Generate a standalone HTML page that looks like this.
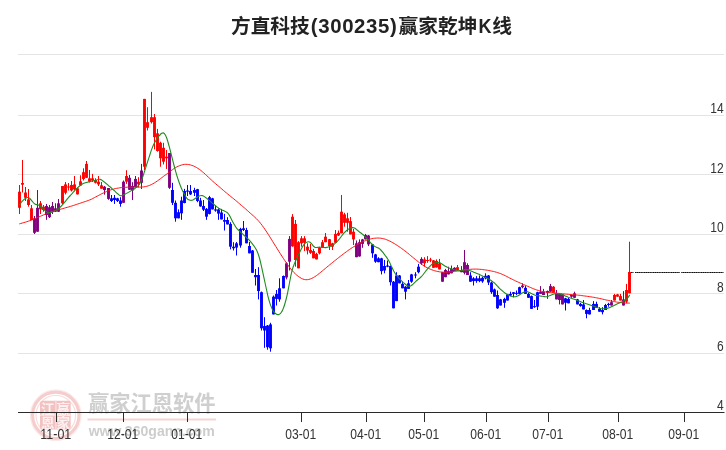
<!DOCTYPE html><html><head><meta charset="utf-8"><title>K</title><style>
html,body{margin:0;padding:0;background:#fff}body{width:726px;height:450px;overflow:hidden;position:relative;font-family:"Liberation Sans","Noto Sans CJK SC",sans-serif}
svg{position:absolute;left:0;top:0}
.t{font-family:"Liberation Sans","Noto Sans CJK SC",sans-serif}
</style></head><body>
<svg width="726" height="450" viewBox="0 0 726 450" style="will-change:transform">
<rect width="726" height="450" fill="#fff"/>
<g class="t">
<circle cx="55.8" cy="415.3" r="25.4" fill="none" stroke="#fbe6e6" stroke-width="1"/>
<circle cx="55.8" cy="415.3" r="23.2" fill="none" stroke="#f5cdcd" stroke-width="3.2"/>
<circle cx="55.8" cy="415.3" r="19.8" fill="none" stroke="#f9dddd" stroke-width="1.2"/>
<rect x="40" y="400.7" width="30.7" height="28.8" rx="2.5" fill="#f2c2c2"/>
<rect x="55.3" y="400.7" width="1.2" height="28.8" fill="#f9e2e2"/>
<rect x="40" y="414.6" width="30.7" height="1.2" fill="#f9e2e2"/>
<g font-size="13.5" font-weight="bold" fill="#fdf0f0" text-anchor="middle">
<text x="47.8" y="413.6">江</text><text x="63.2" y="413.6">赢</text>
<text x="47.8" y="428">恩</text><text x="63.2" y="428">家</text>
</g>
<text x="88" y="410.8" font-size="21.3" font-weight="bold" fill="#cfcfcf" textLength="127.5" lengthAdjust="spacing">赢家江恩软件</text>
<rect x="87.5" y="418.5" width="128.5" height="2" fill="#f3d5d5"/>
<text x="88.7" y="436" font-size="15.2" font-weight="bold" fill="#cdcdcd" textLength="126" lengthAdjust="spacingAndGlyphs">www.360gann.com</text>
</g>

<rect x="18" y="54" width="706" height="1" fill="#e4e4e4"/>
<rect x="18" y="115" width="706" height="1" fill="#e4e4e4"/>
<rect x="18" y="174" width="706" height="1" fill="#e4e4e4"/>
<rect x="18" y="234" width="706" height="1" fill="#e4e4e4"/>
<rect x="18" y="293" width="706" height="1" fill="#e4e4e4"/>
<rect x="18" y="353" width="706" height="1" fill="#e4e4e4"/>
<rect x="18" y="412" width="706.5" height="1" fill="#2a2a2a"/>
<rect x="56" y="412" width="1" height="10" fill="#2a2a2a"/>
<text class="t" x="55.8" y="439" font-size="14" fill="#333" text-anchor="middle" textLength="31" lengthAdjust="spacingAndGlyphs">11-01</text>
<rect x="123" y="412" width="1" height="10" fill="#2a2a2a"/>
<text class="t" x="122.8" y="439" font-size="14" fill="#333" text-anchor="middle" textLength="31" lengthAdjust="spacingAndGlyphs">12-01</text>
<rect x="187" y="412" width="1" height="10" fill="#2a2a2a"/>
<text class="t" x="186.8" y="439" font-size="14" fill="#333" text-anchor="middle" textLength="31" lengthAdjust="spacingAndGlyphs">01-01</text>
<rect x="301" y="412" width="1" height="10" fill="#2a2a2a"/>
<text class="t" x="300.8" y="439" font-size="14" fill="#333" text-anchor="middle" textLength="31" lengthAdjust="spacingAndGlyphs">03-01</text>
<rect x="366" y="412" width="1" height="10" fill="#2a2a2a"/>
<text class="t" x="365.8" y="439" font-size="14" fill="#333" text-anchor="middle" textLength="31" lengthAdjust="spacingAndGlyphs">04-01</text>
<rect x="424" y="412" width="1" height="10" fill="#2a2a2a"/>
<text class="t" x="423.8" y="439" font-size="14" fill="#333" text-anchor="middle" textLength="31" lengthAdjust="spacingAndGlyphs">05-01</text>
<rect x="486" y="412" width="1" height="10" fill="#2a2a2a"/>
<text class="t" x="485.8" y="439" font-size="14" fill="#333" text-anchor="middle" textLength="31" lengthAdjust="spacingAndGlyphs">06-01</text>
<rect x="548" y="412" width="1" height="10" fill="#2a2a2a"/>
<text class="t" x="547.8" y="439" font-size="14" fill="#333" text-anchor="middle" textLength="31" lengthAdjust="spacingAndGlyphs">07-01</text>
<rect x="618" y="412" width="1" height="10" fill="#2a2a2a"/>
<text class="t" x="617.8" y="439" font-size="14" fill="#333" text-anchor="middle" textLength="31" lengthAdjust="spacingAndGlyphs">08-01</text>
<rect x="684" y="412" width="1" height="10" fill="#2a2a2a"/>
<text class="t" x="683.8" y="439" font-size="14" fill="#333" text-anchor="middle" textLength="31" lengthAdjust="spacingAndGlyphs">09-01</text>
<text class="t" x="723.6" y="113" font-size="14" fill="#333" text-anchor="end" textLength="13.4" lengthAdjust="spacingAndGlyphs">14</text>
<text class="t" x="723.6" y="172.5" font-size="14" fill="#333" text-anchor="end" textLength="13.4" lengthAdjust="spacingAndGlyphs">12</text>
<text class="t" x="723.6" y="232" font-size="14" fill="#333" text-anchor="end" textLength="13.4" lengthAdjust="spacingAndGlyphs">10</text>
<text class="t" x="723.6" y="291.5" font-size="14" fill="#333" text-anchor="end" textLength="6.7" lengthAdjust="spacingAndGlyphs">8</text>
<text class="t" x="723.6" y="351" font-size="14" fill="#333" text-anchor="end" textLength="6.7" lengthAdjust="spacingAndGlyphs">6</text>
<text class="t" x="723.6" y="410" font-size="14" fill="#333" text-anchor="end" textLength="6.7" lengthAdjust="spacingAndGlyphs">4</text>
<text class="t" y="33" font-weight="bold" fill="#222" font-size="19.7"><tspan x="231">方直科技</tspan><tspan x="310.8" font-size="20.4" textLength="86" lengthAdjust="spacing">(300235)</tspan><tspan x="398.6">赢家乾坤</tspan><tspan x="478.6" font-size="20.4" textLength="13" lengthAdjust="spacingAndGlyphs">K</tspan><tspan x="492.2">线</tspan></text>
<g fill="#ff0000"><rect x="19.00" y="185.0" width="1.0" height="29.0"/><rect x="18.05" y="191.7" width="2.9" height="16.1"/><rect x="22.00" y="160.0" width="1.0" height="32.5"/><rect x="21.05" y="183.0" width="2.9" height="1.7"/><rect x="25.00" y="187.0" width="1.0" height="14.0"/><rect x="24.05" y="192.5" width="2.9" height="5.3"/><rect x="28.00" y="189.0" width="1.0" height="17.7"/><rect x="27.05" y="199.4" width="2.9" height="5.6"/><rect x="31.00" y="205.0" width="1.0" height="15.0"/><rect x="30.05" y="208.3" width="2.9" height="11.7"/><rect x="40.00" y="201.0" width="1.0" height="13.0"/><rect x="39.05" y="203.3" width="2.9" height="6.1"/><rect x="43.00" y="205.0" width="1.0" height="6.7"/><rect x="42.05" y="206.7" width="2.9" height="3.3"/><rect x="62.00" y="186.0" width="1.0" height="18.5"/><rect x="61.05" y="186.0" width="2.9" height="17.3"/><rect x="65.00" y="182.0" width="1.0" height="12.4"/><rect x="64.05" y="184.4" width="2.9" height="8.4"/><rect x="68.00" y="183.0" width="1.0" height="7.5"/><rect x="67.05" y="186.5" width="2.9" height="1.0"/><rect x="71.00" y="181.0" width="1.0" height="10.5"/><rect x="70.05" y="185.0" width="2.9" height="5.5"/><rect x="74.00" y="176.0" width="1.0" height="14.0"/><rect x="73.05" y="184.4" width="2.9" height="5.0"/><rect x="77.00" y="187.5" width="1.0" height="6.9"/><rect x="76.05" y="188.3" width="2.9" height="6.1"/><rect x="80.00" y="175.3" width="1.0" height="10.7"/><rect x="79.05" y="181.3" width="2.9" height="4.2"/><rect x="83.00" y="168.3" width="1.0" height="12.2"/><rect x="82.05" y="172.2" width="2.9" height="6.8"/><rect x="86.00" y="161.0" width="1.0" height="17.0"/><rect x="85.05" y="163.9" width="2.9" height="13.9"/><rect x="89.00" y="170.0" width="1.0" height="12.5"/><rect x="88.05" y="178.3" width="2.9" height="3.4"/><rect x="92.00" y="173.9" width="1.0" height="8.1"/><rect x="91.05" y="178.3" width="2.9" height="2.2"/><rect x="95.00" y="178.3" width="1.0" height="5.2"/><rect x="94.05" y="180.0" width="2.9" height="2.8"/><rect x="98.00" y="176.0" width="1.0" height="10.0"/><rect x="97.05" y="181.7" width="2.9" height="2.7"/><rect x="101.00" y="182.0" width="1.0" height="6.7"/><rect x="100.05" y="185.3" width="2.9" height="3.4"/><rect x="126.00" y="170.2" width="1.0" height="13.7"/><rect x="125.05" y="176.0" width="2.9" height="5.7"/><rect x="138.00" y="177.2" width="1.0" height="10.0"/><rect x="137.05" y="181.7" width="2.9" height="2.7"/><rect x="144.00" y="98.9" width="1.0" height="71.1"/><rect x="143.05" y="98.9" width="2.9" height="67.8"/><rect x="147.00" y="107.2" width="1.0" height="23.3"/><rect x="146.05" y="122.2" width="2.9" height="5.6"/><rect x="151.00" y="91.9" width="1.0" height="31.6"/><rect x="150.05" y="117.2" width="2.9" height="5.0"/><rect x="154.00" y="114.0" width="1.0" height="35.4"/><rect x="153.05" y="117.2" width="2.9" height="20.0"/><rect x="157.00" y="128.9" width="1.0" height="22.8"/><rect x="156.05" y="133.3" width="2.9" height="17.7"/><rect x="160.00" y="141.7" width="1.0" height="25.0"/><rect x="159.05" y="142.8" width="2.9" height="15.5"/><rect x="163.00" y="142.8" width="1.0" height="21.6"/><rect x="162.05" y="147.8" width="2.9" height="13.9"/><rect x="166.00" y="150.0" width="1.0" height="18.9"/><rect x="165.05" y="156.7" width="2.9" height="1.6"/><rect x="292.00" y="214.1" width="1.0" height="32.6"/><rect x="291.05" y="216.7" width="2.9" height="29.7"/><rect x="295.00" y="220.0" width="1.0" height="46.7"/><rect x="294.05" y="223.9" width="2.9" height="36.1"/><rect x="298.00" y="241.1" width="1.0" height="27.2"/><rect x="297.05" y="242.2" width="2.9" height="26.1"/><rect x="301.00" y="236.1" width="1.0" height="10.6"/><rect x="300.05" y="238.3" width="2.9" height="5.0"/><rect x="304.00" y="236.1" width="1.0" height="15.0"/><rect x="303.05" y="238.3" width="2.9" height="4.5"/><rect x="307.00" y="243.3" width="1.0" height="11.1"/><rect x="306.05" y="246.7" width="2.9" height="3.8"/><rect x="310.00" y="243.9" width="1.0" height="10.0"/><rect x="309.05" y="250.0" width="2.9" height="2.8"/><rect x="313.00" y="248.9" width="1.0" height="9.4"/><rect x="312.05" y="251.0" width="2.9" height="7.3"/><rect x="316.00" y="252.8" width="1.0" height="6.6"/><rect x="315.05" y="253.9" width="2.9" height="5.5"/><rect x="319.00" y="246.7" width="1.0" height="7.7"/><rect x="318.05" y="247.8" width="2.9" height="5.5"/><rect x="322.00" y="240.0" width="1.0" height="7.8"/><rect x="321.05" y="242.2" width="2.9" height="5.6"/><rect x="325.00" y="233.0" width="1.0" height="9.2"/><rect x="324.05" y="236.7" width="2.9" height="5.5"/><rect x="329.00" y="238.9" width="1.0" height="11.1"/><rect x="328.05" y="239.2" width="2.9" height="6.9"/><rect x="332.00" y="242.8" width="1.0" height="7.2"/><rect x="331.05" y="243.3" width="2.9" height="3.4"/><rect x="335.00" y="230.0" width="1.0" height="12.8"/><rect x="334.05" y="233.9" width="2.9" height="8.9"/><rect x="338.00" y="230.5" width="1.0" height="5.5"/><rect x="337.05" y="232.8" width="2.9" height="2.7"/><rect x="341.00" y="195.0" width="1.0" height="38.3"/><rect x="340.05" y="211.7" width="2.9" height="21.6"/><rect x="344.00" y="212.8" width="1.0" height="13.9"/><rect x="343.05" y="214.4" width="2.9" height="8.4"/><rect x="347.00" y="212.8" width="1.0" height="18.9"/><rect x="346.05" y="218.3" width="2.9" height="4.5"/><rect x="350.00" y="217.0" width="1.0" height="17.4"/><rect x="349.05" y="221.1" width="2.9" height="13.3"/><rect x="353.00" y="228.9" width="1.0" height="16.1"/><rect x="352.05" y="231.7" width="2.9" height="7.7"/><rect x="424.00" y="257.2" width="1.0" height="9.5"/><rect x="423.05" y="259.4" width="2.9" height="3.9"/><rect x="427.00" y="256.1" width="1.0" height="6.7"/><rect x="426.05" y="260.0" width="2.9" height="1.0"/><rect x="430.00" y="257.8" width="1.0" height="4.4"/><rect x="429.05" y="259.5" width="2.9" height="1.0"/><rect x="433.00" y="260.0" width="1.0" height="7.8"/><rect x="432.05" y="260.3" width="2.9" height="7.5"/><rect x="436.00" y="259.4" width="1.0" height="8.1"/><rect x="435.05" y="261.0" width="2.9" height="6.5"/><rect x="439.00" y="258.9" width="1.0" height="10.5"/><rect x="438.05" y="263.3" width="2.9" height="6.1"/><rect x="457.00" y="265.0" width="1.0" height="5.0"/><rect x="456.05" y="267.2" width="2.9" height="2.8"/><rect x="553.00" y="286.1" width="1.0" height="6.7"/><rect x="552.05" y="286.7" width="2.9" height="6.1"/><rect x="614.00" y="293.9" width="1.0" height="6.6"/><rect x="613.05" y="295.0" width="2.9" height="5.5"/><rect x="617.00" y="293.9" width="1.0" height="2.8"/><rect x="616.05" y="294.4" width="2.9" height="2.3"/><rect x="620.00" y="293.9" width="1.0" height="6.6"/><rect x="619.05" y="296.1" width="2.9" height="4.4"/><rect x="626.00" y="283.9" width="1.0" height="19.4"/><rect x="625.05" y="290.0" width="2.9" height="11.7"/><rect x="629.00" y="241.7" width="1.0" height="51.6"/><rect x="628.05" y="272.0" width="2.9" height="21.3"/></g>
<g fill="#0000ff"><rect x="111.00" y="195.0" width="1.0" height="7.0"/><rect x="110.05" y="198.3" width="2.9" height="2.7"/><rect x="114.00" y="195.0" width="1.0" height="8.9"/><rect x="113.05" y="197.8" width="2.9" height="2.2"/><rect x="117.00" y="197.8" width="1.0" height="4.2"/><rect x="116.05" y="198.3" width="2.9" height="2.7"/><rect x="120.00" y="197.2" width="1.0" height="9.5"/><rect x="119.05" y="200.5" width="2.9" height="3.4"/><rect x="172.00" y="182.8" width="1.0" height="22.2"/><rect x="171.05" y="190.0" width="2.9" height="12.8"/><rect x="175.00" y="200.5" width="1.0" height="21.2"/><rect x="174.05" y="202.8" width="2.9" height="15.5"/><rect x="178.00" y="209.4" width="1.0" height="8.9"/><rect x="177.05" y="212.2" width="2.9" height="6.1"/><rect x="181.00" y="196.7" width="1.0" height="23.1"/><rect x="180.05" y="200.5" width="2.9" height="12.8"/><rect x="184.00" y="188.9" width="1.0" height="14.4"/><rect x="183.05" y="191.0" width="2.9" height="12.0"/><rect x="187.00" y="185.0" width="1.0" height="11.0"/><rect x="186.05" y="190.5" width="2.9" height="1.2"/><rect x="190.00" y="185.0" width="1.0" height="10.0"/><rect x="189.05" y="191.0" width="2.9" height="3.4"/><rect x="194.00" y="187.8" width="1.0" height="8.2"/><rect x="193.05" y="190.0" width="2.9" height="2.8"/><rect x="197.00" y="188.9" width="1.0" height="13.3"/><rect x="196.05" y="189.2" width="2.9" height="11.8"/><rect x="200.00" y="197.8" width="1.0" height="8.9"/><rect x="199.05" y="200.5" width="2.9" height="5.9"/><rect x="203.00" y="200.0" width="1.0" height="11.0"/><rect x="202.05" y="206.0" width="2.9" height="3.7"/><rect x="206.00" y="208.0" width="1.0" height="11.8"/><rect x="205.05" y="208.9" width="2.9" height="7.8"/><rect x="209.00" y="195.9" width="1.0" height="18.5"/><rect x="208.05" y="197.2" width="2.9" height="16.7"/><rect x="212.00" y="197.8" width="1.0" height="11.6"/><rect x="211.05" y="198.3" width="2.9" height="11.1"/><rect x="215.00" y="205.5" width="1.0" height="6.2"/><rect x="214.05" y="209.4" width="2.9" height="1.2"/><rect x="218.00" y="208.3" width="1.0" height="11.5"/><rect x="217.05" y="209.4" width="2.9" height="4.2"/><rect x="221.00" y="208.9" width="1.0" height="10.5"/><rect x="220.05" y="212.5" width="2.9" height="6.9"/><rect x="224.00" y="213.9" width="1.0" height="16.6"/><rect x="223.05" y="220.0" width="2.9" height="1.7"/><rect x="227.00" y="217.2" width="1.0" height="7.2"/><rect x="226.05" y="220.0" width="2.9" height="4.4"/><rect x="230.00" y="222.2" width="1.0" height="27.2"/><rect x="229.05" y="223.9" width="2.9" height="22.8"/><rect x="233.00" y="242.2" width="1.0" height="8.3"/><rect x="232.05" y="246.7" width="2.9" height="1.6"/><rect x="236.00" y="242.0" width="1.0" height="13.5"/><rect x="235.05" y="243.3" width="2.9" height="4.3"/><rect x="240.00" y="227.8" width="1.0" height="19.9"/><rect x="239.05" y="228.9" width="2.9" height="16.6"/><rect x="243.00" y="221.0" width="1.0" height="10.0"/><rect x="242.05" y="228.3" width="2.9" height="1.7"/><rect x="246.00" y="227.8" width="1.0" height="15.5"/><rect x="245.05" y="230.0" width="2.9" height="13.3"/><rect x="249.00" y="242.0" width="1.0" height="11.3"/><rect x="248.05" y="246.0" width="2.9" height="7.3"/><rect x="252.00" y="250.0" width="1.0" height="22.8"/><rect x="251.05" y="250.5" width="2.9" height="22.3"/><rect x="255.00" y="269.0" width="1.0" height="16.5"/><rect x="254.05" y="275.0" width="2.9" height="2.2"/><rect x="258.00" y="267.2" width="1.0" height="32.2"/><rect x="257.05" y="275.0" width="2.9" height="16.1"/><rect x="261.00" y="291.5" width="1.0" height="39.0"/><rect x="260.05" y="292.2" width="2.9" height="36.1"/><rect x="264.00" y="317.2" width="1.0" height="30.6"/><rect x="263.05" y="326.0" width="2.9" height="4.5"/><rect x="267.00" y="325.0" width="1.0" height="24.7"/><rect x="266.05" y="325.5" width="2.9" height="21.7"/><rect x="270.00" y="322.8" width="1.0" height="28.9"/><rect x="269.05" y="324.4" width="2.9" height="23.9"/><rect x="273.00" y="295.5" width="1.0" height="18.9"/><rect x="272.05" y="296.7" width="2.9" height="17.7"/><rect x="276.00" y="290.0" width="1.0" height="15.5"/><rect x="275.05" y="293.9" width="2.9" height="5.0"/><rect x="279.00" y="278.3" width="1.0" height="23.4"/><rect x="278.05" y="288.3" width="2.9" height="11.1"/><rect x="283.00" y="275.5" width="1.0" height="12.8"/><rect x="282.05" y="276.0" width="2.9" height="12.3"/><rect x="372.00" y="243.9" width="1.0" height="13.9"/><rect x="371.05" y="244.4" width="2.9" height="8.9"/><rect x="375.00" y="253.9" width="1.0" height="8.9"/><rect x="374.05" y="254.4" width="2.9" height="7.3"/><rect x="378.00" y="257.2" width="1.0" height="5.0"/><rect x="377.05" y="258.3" width="2.9" height="3.9"/><rect x="381.00" y="257.8" width="1.0" height="16.6"/><rect x="380.05" y="258.3" width="2.9" height="12.8"/><rect x="384.00" y="260.0" width="1.0" height="13.3"/><rect x="383.05" y="266.0" width="2.9" height="4.5"/><rect x="387.00" y="260.5" width="1.0" height="6.7"/><rect x="386.05" y="265.5" width="2.9" height="1.2"/><rect x="390.00" y="265.5" width="1.0" height="20.0"/><rect x="389.05" y="266.0" width="2.9" height="16.2"/><rect x="393.00" y="281.0" width="1.0" height="27.3"/><rect x="392.05" y="281.7" width="2.9" height="26.6"/><rect x="396.00" y="272.2" width="1.0" height="28.9"/><rect x="395.05" y="275.5" width="2.9" height="25.6"/><rect x="399.00" y="275.0" width="1.0" height="8.3"/><rect x="398.05" y="275.5" width="2.9" height="7.8"/><rect x="402.00" y="281.7" width="1.0" height="6.6"/><rect x="401.05" y="283.9" width="2.9" height="4.4"/><rect x="405.00" y="286.1" width="1.0" height="13.3"/><rect x="404.05" y="286.7" width="2.9" height="5.0"/><rect x="408.00" y="280.0" width="1.0" height="8.9"/><rect x="407.05" y="283.3" width="2.9" height="5.6"/><rect x="411.00" y="273.9" width="1.0" height="8.9"/><rect x="410.05" y="274.4" width="2.9" height="7.3"/><rect x="415.00" y="272.2" width="1.0" height="6.1"/><rect x="414.05" y="274.5" width="2.9" height="1.0"/><rect x="418.00" y="263.9" width="1.0" height="9.4"/><rect x="417.05" y="266.7" width="2.9" height="5.5"/><rect x="470.00" y="272.2" width="1.0" height="9.5"/><rect x="469.05" y="275.5" width="2.9" height="6.2"/><rect x="473.00" y="277.2" width="1.0" height="8.3"/><rect x="472.05" y="278.3" width="2.9" height="2.8"/><rect x="476.00" y="276.1" width="1.0" height="6.7"/><rect x="475.05" y="278.3" width="2.9" height="2.8"/><rect x="479.00" y="275.5" width="1.0" height="6.7"/><rect x="478.05" y="278.3" width="2.9" height="2.8"/><rect x="482.00" y="276.7" width="1.0" height="6.1"/><rect x="481.05" y="277.8" width="2.9" height="3.6"/><rect x="485.00" y="273.3" width="1.0" height="6.1"/><rect x="484.05" y="275.8" width="2.9" height="2.5"/><rect x="488.00" y="275.0" width="1.0" height="10.0"/><rect x="487.05" y="275.5" width="2.9" height="7.0"/><rect x="491.00" y="281.7" width="1.0" height="12.2"/><rect x="490.05" y="282.5" width="2.9" height="9.7"/><rect x="494.00" y="288.5" width="1.0" height="8.2"/><rect x="493.05" y="289.4" width="2.9" height="7.3"/><rect x="497.00" y="290.5" width="1.0" height="18.4"/><rect x="496.05" y="295.0" width="2.9" height="13.3"/><rect x="500.00" y="298.9" width="1.0" height="6.6"/><rect x="499.05" y="299.4" width="2.9" height="6.1"/><rect x="504.00" y="297.8" width="1.0" height="10.0"/><rect x="503.05" y="298.9" width="2.9" height="3.9"/><rect x="507.00" y="293.9" width="1.0" height="6.6"/><rect x="506.05" y="294.4" width="2.9" height="6.1"/><rect x="510.00" y="291.7" width="1.0" height="4.4"/><rect x="509.05" y="293.9" width="2.9" height="1.6"/><rect x="513.00" y="292.2" width="1.0" height="5.0"/><rect x="512.05" y="292.2" width="2.9" height="1.7"/><rect x="516.00" y="290.5" width="1.0" height="4.5"/><rect x="515.05" y="292.8" width="2.9" height="1.1"/><rect x="519.00" y="286.7" width="1.0" height="7.2"/><rect x="518.05" y="287.2" width="2.9" height="6.7"/><rect x="525.00" y="286.1" width="1.0" height="7.8"/><rect x="524.05" y="287.8" width="2.9" height="6.1"/><rect x="528.00" y="292.8" width="1.0" height="5.0"/><rect x="527.05" y="293.9" width="2.9" height="3.9"/><rect x="531.00" y="295.5" width="1.0" height="13.4"/><rect x="530.05" y="296.1" width="2.9" height="12.8"/><rect x="534.00" y="300.0" width="1.0" height="7.8"/><rect x="533.05" y="306.1" width="2.9" height="1.1"/><rect x="537.00" y="291.7" width="1.0" height="18.3"/><rect x="536.05" y="292.2" width="2.9" height="14.5"/><rect x="565.00" y="297.8" width="1.0" height="12.7"/><rect x="564.05" y="298.3" width="2.9" height="4.5"/><rect x="568.00" y="297.8" width="1.0" height="5.5"/><rect x="567.05" y="298.9" width="2.9" height="4.4"/><rect x="577.00" y="298.9" width="1.0" height="5.5"/><rect x="576.05" y="299.4" width="2.9" height="5.0"/><rect x="580.00" y="302.8" width="1.0" height="3.9"/><rect x="579.05" y="303.9" width="2.9" height="2.2"/><rect x="583.00" y="300.0" width="1.0" height="9.4"/><rect x="582.05" y="304.4" width="2.9" height="5.0"/><rect x="586.00" y="309.4" width="1.0" height="8.9"/><rect x="585.05" y="310.0" width="2.9" height="3.9"/><rect x="589.00" y="307.8" width="1.0" height="6.6"/><rect x="588.05" y="310.0" width="2.9" height="4.4"/><rect x="593.00" y="301.1" width="1.0" height="8.9"/><rect x="592.05" y="303.9" width="2.9" height="6.1"/><rect x="596.00" y="301.7" width="1.0" height="6.1"/><rect x="595.05" y="303.9" width="2.9" height="3.9"/><rect x="599.00" y="307.2" width="1.0" height="4.5"/><rect x="598.05" y="308.9" width="2.9" height="2.8"/><rect x="602.00" y="307.2" width="1.0" height="7.2"/><rect x="601.05" y="310.0" width="2.9" height="2.2"/><rect x="605.00" y="303.9" width="1.0" height="6.1"/><rect x="604.05" y="305.0" width="2.9" height="5.0"/><rect x="608.00" y="302.8" width="1.0" height="3.9"/><rect x="607.05" y="303.9" width="2.9" height="1.1"/></g>
<g fill="#800080"><rect x="34.00" y="216.0" width="1.0" height="18.0"/><rect x="33.05" y="218.3" width="2.9" height="14.5"/><rect x="37.00" y="190.0" width="1.0" height="41.7"/><rect x="36.05" y="207.8" width="2.9" height="23.9"/><rect x="46.00" y="204.0" width="1.0" height="15.8"/><rect x="45.05" y="206.0" width="2.9" height="9.0"/><rect x="49.00" y="205.0" width="1.0" height="13.0"/><rect x="48.05" y="207.2" width="2.9" height="10.0"/><rect x="52.00" y="202.0" width="1.0" height="12.0"/><rect x="51.05" y="206.0" width="2.9" height="5.7"/><rect x="55.00" y="203.3" width="1.0" height="8.7"/><rect x="54.05" y="208.3" width="2.9" height="3.4"/><rect x="58.00" y="199.0" width="1.0" height="13.0"/><rect x="57.05" y="203.3" width="2.9" height="8.4"/><rect x="104.00" y="186.0" width="1.0" height="8.7"/><rect x="103.05" y="186.7" width="2.9" height="3.3"/><rect x="108.00" y="188.0" width="1.0" height="11.8"/><rect x="107.05" y="188.0" width="2.9" height="10.9"/><rect x="123.00" y="180.5" width="1.0" height="22.3"/><rect x="122.05" y="181.7" width="2.9" height="21.1"/><rect x="129.00" y="175.0" width="1.0" height="14.8"/><rect x="128.05" y="177.8" width="2.9" height="12.0"/><rect x="132.00" y="182.2" width="1.0" height="17.8"/><rect x="131.05" y="186.0" width="2.9" height="4.5"/><rect x="135.00" y="176.0" width="1.0" height="11.2"/><rect x="134.05" y="178.9" width="2.9" height="8.3"/><rect x="141.00" y="163.9" width="1.0" height="25.1"/><rect x="140.05" y="170.5" width="2.9" height="12.3"/><rect x="169.00" y="153.0" width="1.0" height="35.9"/><rect x="168.05" y="153.0" width="2.9" height="34.8"/><rect x="286.00" y="262.2" width="1.0" height="17.2"/><rect x="285.05" y="263.3" width="2.9" height="14.2"/><rect x="289.00" y="236.1" width="1.0" height="34.4"/><rect x="288.05" y="238.9" width="2.9" height="22.8"/><rect x="356.00" y="240.5" width="1.0" height="16.7"/><rect x="355.05" y="243.3" width="2.9" height="13.9"/><rect x="359.00" y="239.4" width="1.0" height="17.3"/><rect x="358.05" y="242.2" width="2.9" height="14.2"/><rect x="362.00" y="238.9" width="1.0" height="8.9"/><rect x="361.05" y="239.4" width="2.9" height="4.5"/><rect x="365.00" y="233.9" width="1.0" height="5.5"/><rect x="364.05" y="235.0" width="2.9" height="4.4"/><rect x="368.00" y="235.0" width="1.0" height="11.1"/><rect x="367.05" y="235.5" width="2.9" height="8.9"/><rect x="421.00" y="257.2" width="1.0" height="7.8"/><rect x="420.05" y="258.9" width="2.9" height="4.4"/><rect x="442.00" y="272.0" width="1.0" height="9.7"/><rect x="441.05" y="272.2" width="2.9" height="9.5"/><rect x="445.00" y="268.9" width="1.0" height="8.3"/><rect x="444.05" y="270.0" width="2.9" height="7.2"/><rect x="448.00" y="266.7" width="1.0" height="7.7"/><rect x="447.05" y="271.1" width="2.9" height="3.3"/><rect x="451.00" y="265.5" width="1.0" height="7.8"/><rect x="450.05" y="268.9" width="2.9" height="4.4"/><rect x="454.00" y="267.2" width="1.0" height="3.9"/><rect x="453.05" y="267.8" width="2.9" height="3.3"/><rect x="461.00" y="266.1" width="1.0" height="6.1"/><rect x="460.05" y="270.0" width="2.9" height="2.2"/><rect x="464.00" y="250.0" width="1.0" height="24.4"/><rect x="463.05" y="262.2" width="2.9" height="10.6"/><rect x="467.00" y="263.3" width="1.0" height="11.7"/><rect x="466.05" y="265.0" width="2.9" height="10.0"/><rect x="522.00" y="283.3" width="1.0" height="5.0"/><rect x="521.05" y="285.5" width="2.9" height="1.7"/><rect x="540.00" y="286.1" width="1.0" height="7.8"/><rect x="539.05" y="291.7" width="2.9" height="2.2"/><rect x="543.00" y="288.9" width="1.0" height="6.1"/><rect x="542.05" y="291.7" width="2.9" height="3.3"/><rect x="547.00" y="290.5" width="1.0" height="8.4"/><rect x="546.05" y="291.0" width="2.9" height="1.8"/><rect x="550.00" y="283.9" width="1.0" height="7.8"/><rect x="549.05" y="286.1" width="2.9" height="5.6"/><rect x="556.00" y="290.0" width="1.0" height="9.4"/><rect x="555.05" y="293.0" width="2.9" height="6.4"/><rect x="559.00" y="293.5" width="1.0" height="10.9"/><rect x="558.05" y="293.9" width="2.9" height="6.1"/><rect x="562.00" y="294.0" width="1.0" height="10.4"/><rect x="561.05" y="294.4" width="2.9" height="10.0"/><rect x="571.00" y="294.4" width="1.0" height="3.4"/><rect x="570.05" y="295.0" width="2.9" height="1.7"/><rect x="574.00" y="291.7" width="1.0" height="6.1"/><rect x="573.05" y="293.3" width="2.9" height="4.5"/><rect x="611.00" y="300.0" width="1.0" height="5.5"/><rect x="610.05" y="302.2" width="2.9" height="3.3"/><rect x="623.00" y="291.1" width="1.0" height="14.4"/><rect x="622.05" y="299.4" width="2.9" height="6.1"/></g>
<path d="M19.3,223.9 C19.6,223.8 20.3,223.6 20.8,223.5 C21.3,223.3 21.8,223.2 22.3,223.0 C22.8,222.9 23.3,222.7 23.8,222.6 C24.3,222.4 24.8,222.3 25.3,222.2 C25.8,222.0 26.3,221.9 26.8,221.7 C27.3,221.6 27.8,221.4 28.3,221.2 C28.8,221.1 29.3,220.9 29.8,220.7 C30.3,220.6 30.8,220.4 31.3,220.2 C31.8,220.0 32.3,219.8 32.8,219.6 C33.3,219.4 33.8,219.2 34.3,219.0 C34.8,218.7 35.3,218.5 35.8,218.3 C36.3,218.1 36.8,217.9 37.3,217.6 C37.8,217.4 38.3,217.2 38.8,217.0 C39.3,216.7 39.8,216.5 40.3,216.3 C40.8,216.1 41.3,215.9 41.8,215.7 C42.3,215.4 42.8,215.2 43.3,215.0 C43.8,214.8 44.3,214.6 44.8,214.4 C45.3,214.2 45.8,214.0 46.3,213.8 C46.8,213.6 47.3,213.4 47.8,213.2 C48.3,213.0 48.8,212.8 49.3,212.6 C49.8,212.4 50.3,212.2 50.8,212.0 C51.3,211.8 51.8,211.7 52.3,211.5 C52.8,211.3 53.3,211.2 53.8,211.0 C54.3,210.8 54.8,210.7 55.3,210.6 C55.8,210.4 56.3,210.3 56.8,210.1 C57.3,210.0 57.8,209.9 58.3,209.7 C58.8,209.6 59.3,209.5 59.8,209.4 C60.3,209.2 60.8,209.1 61.3,209.0 C61.8,208.8 62.3,208.7 62.8,208.6 C63.3,208.4 63.8,208.3 64.3,208.2 C64.8,208.0 65.3,207.9 65.8,207.7 C66.3,207.6 66.8,207.5 67.3,207.3 C67.8,207.2 68.3,207.0 68.8,206.9 C69.3,206.7 69.8,206.6 70.3,206.4 C70.8,206.3 71.3,206.1 71.8,206.0 C72.3,205.8 72.8,205.7 73.3,205.5 C73.8,205.4 74.3,205.2 74.8,205.0 C75.3,204.9 75.8,204.7 76.3,204.5 C76.8,204.4 77.3,204.2 77.8,204.0 C78.3,203.9 78.8,203.7 79.3,203.5 C79.8,203.3 80.3,203.2 80.8,203.0 C81.3,202.8 81.8,202.7 82.3,202.5 C82.8,202.3 83.3,202.1 83.8,202.0 C84.3,201.8 84.8,201.6 85.3,201.5 C85.8,201.3 86.3,201.2 86.8,201.0 C87.3,200.8 87.8,200.7 88.3,200.5 C88.8,200.3 89.3,200.1 89.8,199.9 C90.3,199.7 90.8,199.5 91.3,199.3 C91.8,199.0 92.3,198.8 92.8,198.5 C93.3,198.3 93.8,198.0 94.3,197.7 C94.8,197.5 95.3,197.2 95.8,196.9 C96.3,196.6 96.8,196.3 97.3,196.1 C97.8,195.8 98.3,195.5 98.8,195.3 C99.3,195.0 99.8,194.7 100.3,194.5 C100.8,194.2 101.3,194.0 101.8,193.7 C102.3,193.5 102.8,193.2 103.3,193.0 C103.8,192.8 104.3,192.5 104.8,192.3 C105.3,192.1 105.8,191.9 106.3,191.7 C106.8,191.4 107.3,191.2 107.8,191.0 C108.3,190.8 108.8,190.6 109.3,190.4 C109.8,190.2 110.3,190.0 110.8,189.9 C111.3,189.7 111.8,189.5 112.3,189.4 C112.8,189.2 113.3,189.1 113.8,189.0 C114.3,188.8 114.8,188.7 115.3,188.6 C115.8,188.5 116.3,188.4 116.8,188.3 C117.3,188.2 117.8,188.2 118.3,188.1 C118.8,188.0 119.3,187.9 119.8,187.8 C120.3,187.8 120.8,187.7 121.3,187.6 C121.8,187.6 122.3,187.5 122.8,187.5 C123.3,187.4 123.8,187.4 124.3,187.3 C124.8,187.3 125.3,187.3 125.8,187.3 C126.3,187.2 126.8,187.2 127.3,187.2 C127.8,187.2 128.3,187.2 128.8,187.2 C129.3,187.2 129.8,187.2 130.3,187.2 C130.8,187.2 131.3,187.2 131.8,187.2 C132.3,187.2 132.8,187.2 133.3,187.2 C133.8,187.2 134.3,187.2 134.8,187.2 C135.3,187.2 135.8,187.2 136.3,187.2 C136.8,187.2 137.3,187.1 137.8,187.1 C138.3,187.1 138.8,187.1 139.3,187.1 C139.8,187.1 140.3,187.1 140.8,187.1 C141.3,187.0 141.8,187.0 142.3,187.0 C142.8,187.0 143.3,186.9 143.8,186.9 C144.3,186.8 144.8,186.7 145.3,186.6 C145.8,186.5 146.3,186.4 146.8,186.3 C147.3,186.2 147.8,186.0 148.3,185.8 C148.8,185.7 149.3,185.5 149.8,185.3 C150.3,185.1 150.8,184.8 151.3,184.6 C151.8,184.4 152.3,184.1 152.8,183.8 C153.3,183.6 153.8,183.3 154.3,183.0 C154.8,182.7 155.3,182.4 155.8,182.0 C156.3,181.7 156.8,181.4 157.3,181.0 C157.8,180.6 158.3,180.3 158.8,179.9 C159.3,179.5 159.8,179.2 160.3,178.8 C160.8,178.4 161.3,178.0 161.8,177.7 C162.3,177.3 162.8,176.9 163.3,176.5 C163.8,176.2 164.3,175.8 164.8,175.4 C165.3,175.1 165.8,174.7 166.3,174.4 C166.8,174.0 167.3,173.6 167.8,173.2 C168.3,172.9 168.8,172.5 169.3,172.1 C169.8,171.7 170.3,171.3 170.8,170.9 C171.3,170.6 171.8,170.2 172.3,169.8 C172.8,169.4 173.3,169.1 173.8,168.7 C174.3,168.4 174.8,168.1 175.3,167.8 C175.8,167.5 176.3,167.2 176.8,166.9 C177.3,166.7 177.8,166.4 178.3,166.2 C178.8,166.0 179.3,165.8 179.8,165.6 C180.3,165.4 180.8,165.2 181.3,165.1 C181.8,164.9 182.3,164.8 182.8,164.7 C183.3,164.6 183.8,164.5 184.3,164.4 C184.8,164.4 185.3,164.3 185.8,164.3 C186.3,164.3 186.8,164.3 187.3,164.4 C187.8,164.4 188.3,164.5 188.8,164.6 C189.3,164.7 189.8,164.8 190.3,164.9 C190.8,165.0 191.3,165.2 191.8,165.4 C192.3,165.5 192.8,165.7 193.3,165.9 C193.8,166.1 194.3,166.4 194.8,166.6 C195.3,166.9 195.8,167.1 196.3,167.4 C196.8,167.7 197.3,168.0 197.8,168.3 C198.3,168.6 198.8,169.0 199.3,169.3 C199.8,169.7 200.3,170.1 200.8,170.4 C201.3,170.8 201.8,171.2 202.3,171.7 C202.8,172.1 203.3,172.5 203.8,172.9 C204.3,173.4 204.8,173.8 205.3,174.3 C205.8,174.8 206.3,175.2 206.8,175.7 C207.3,176.2 207.8,176.7 208.3,177.1 C208.8,177.6 209.3,178.1 209.8,178.5 C210.3,179.0 210.8,179.5 211.3,179.9 C211.8,180.4 212.3,180.8 212.8,181.3 C213.3,181.7 213.8,182.2 214.3,182.6 C214.8,183.0 215.3,183.5 215.8,183.9 C216.3,184.3 216.8,184.7 217.3,185.2 C217.8,185.6 218.3,186.0 218.8,186.4 C219.3,186.9 219.8,187.3 220.3,187.7 C220.8,188.1 221.3,188.6 221.8,189.0 C222.3,189.4 222.8,189.9 223.3,190.3 C223.8,190.7 224.3,191.2 224.8,191.6 C225.3,192.0 225.8,192.4 226.3,192.8 C226.8,193.3 227.3,193.7 227.8,194.1 C228.3,194.5 228.8,194.9 229.3,195.3 C229.8,195.7 230.3,196.1 230.8,196.5 C231.3,196.9 231.8,197.3 232.3,197.7 C232.8,198.1 233.3,198.5 233.8,198.9 C234.3,199.4 234.8,199.8 235.3,200.2 C235.8,200.6 236.3,201.0 236.8,201.4 C237.3,201.9 237.8,202.3 238.3,202.7 C238.8,203.1 239.3,203.6 239.8,204.0 C240.3,204.4 240.8,204.8 241.3,205.3 C241.8,205.7 242.3,206.1 242.8,206.5 C243.3,207.0 243.8,207.4 244.3,207.8 C244.8,208.3 245.3,208.7 245.8,209.1 C246.3,209.6 246.8,210.0 247.3,210.5 C247.8,210.9 248.3,211.4 248.8,211.8 C249.3,212.3 249.8,212.7 250.3,213.2 C250.8,213.6 251.3,214.1 251.8,214.5 C252.3,214.9 252.8,215.4 253.3,215.8 C253.8,216.3 254.3,216.7 254.8,217.2 C255.3,217.7 255.8,218.1 256.3,218.6 C256.8,219.1 257.3,219.6 257.8,220.2 C258.3,220.7 258.8,221.2 259.3,221.8 C259.8,222.4 260.3,223.0 260.8,223.7 C261.3,224.3 261.8,225.0 262.3,225.6 C262.8,226.3 263.3,227.0 263.8,227.7 C264.3,228.4 264.8,229.1 265.3,229.9 C265.8,230.6 266.3,231.3 266.8,232.1 C267.3,232.9 267.8,233.6 268.3,234.4 C268.8,235.2 269.3,236.0 269.8,236.8 C270.3,237.6 270.8,238.4 271.3,239.2 C271.8,240.0 272.3,240.9 272.8,241.7 C273.3,242.5 273.8,243.3 274.3,244.1 C274.8,244.9 275.3,245.7 275.8,246.5 C276.3,247.3 276.8,248.1 277.3,248.9 C277.8,249.7 278.3,250.5 278.8,251.3 C279.3,252.1 279.8,252.9 280.3,253.6 C280.8,254.4 281.3,255.2 281.8,256.0 C282.3,256.8 282.8,257.6 283.3,258.3 C283.8,259.1 284.3,259.8 284.8,260.6 C285.3,261.3 285.8,262.1 286.3,262.8 C286.8,263.5 287.3,264.2 287.8,264.9 C288.3,265.6 288.8,266.3 289.3,267.0 C289.8,267.6 290.3,268.3 290.8,268.9 C291.3,269.5 291.8,270.1 292.3,270.7 C292.8,271.3 293.3,271.8 293.8,272.4 C294.3,272.9 294.8,273.4 295.3,273.8 C295.8,274.3 296.3,274.8 296.8,275.2 C297.3,275.6 297.8,276.0 298.3,276.4 C298.8,276.8 299.3,277.1 299.8,277.4 C300.3,277.7 300.8,278.0 301.3,278.3 C301.8,278.6 302.3,278.8 302.8,279.0 C303.3,279.2 303.8,279.4 304.3,279.5 C304.8,279.6 305.3,279.7 305.8,279.7 C306.3,279.7 306.8,279.7 307.3,279.7 C307.8,279.6 308.3,279.6 308.8,279.4 C309.3,279.3 309.8,279.2 310.3,279.0 C310.8,278.8 311.3,278.6 311.8,278.4 C312.3,278.1 312.8,277.9 313.3,277.6 C313.8,277.3 314.3,277.0 314.8,276.7 C315.3,276.3 315.8,276.0 316.3,275.7 C316.8,275.3 317.3,274.9 317.8,274.6 C318.3,274.2 318.8,273.8 319.3,273.4 C319.8,273.0 320.3,272.6 320.8,272.2 C321.3,271.8 321.8,271.4 322.3,271.0 C322.8,270.6 323.3,270.2 323.8,269.7 C324.3,269.3 324.8,268.9 325.3,268.5 C325.8,268.1 326.3,267.6 326.8,267.2 C327.3,266.8 327.8,266.4 328.3,266.0 C328.8,265.5 329.3,265.1 329.8,264.7 C330.3,264.3 330.8,263.9 331.3,263.5 C331.8,263.1 332.3,262.7 332.8,262.3 C333.3,261.9 333.8,261.5 334.3,261.1 C334.8,260.7 335.3,260.3 335.8,259.9 C336.3,259.5 336.8,259.1 337.3,258.7 C337.8,258.3 338.3,257.9 338.8,257.5 C339.3,257.1 339.8,256.7 340.3,256.3 C340.8,255.9 341.3,255.5 341.8,255.2 C342.3,254.8 342.8,254.4 343.3,254.0 C343.8,253.6 344.3,253.3 344.8,252.9 C345.3,252.5 345.8,252.1 346.3,251.8 C346.8,251.4 347.3,251.0 347.8,250.7 C348.3,250.3 348.8,250.0 349.3,249.6 C349.8,249.3 350.3,249.0 350.8,248.6 C351.3,248.3 351.8,248.0 352.3,247.6 C352.8,247.3 353.3,247.0 353.8,246.7 C354.3,246.4 354.8,246.1 355.3,245.8 C355.8,245.5 356.3,245.2 356.8,244.9 C357.3,244.6 357.8,244.3 358.3,244.0 C358.8,243.7 359.3,243.4 359.8,243.2 C360.3,242.9 360.8,242.6 361.3,242.4 C361.8,242.2 362.3,241.9 362.8,241.7 C363.3,241.5 363.8,241.3 364.3,241.1 C364.8,240.9 365.3,240.7 365.8,240.5 C366.3,240.3 366.8,240.1 367.3,240.0 C367.8,239.8 368.3,239.6 368.8,239.5 C369.3,239.3 369.8,239.2 370.3,239.0 C370.8,238.9 371.3,238.8 371.8,238.7 C372.3,238.6 372.8,238.5 373.3,238.4 C373.8,238.3 374.3,238.2 374.8,238.2 C375.3,238.1 375.8,238.1 376.3,238.1 C376.8,238.0 377.3,238.0 377.8,238.0 C378.3,238.0 378.8,238.1 379.3,238.1 C379.8,238.1 380.3,238.2 380.8,238.2 C381.3,238.3 381.8,238.4 382.3,238.5 C382.8,238.6 383.3,238.7 383.8,238.8 C384.3,238.9 384.8,239.1 385.3,239.2 C385.8,239.4 386.3,239.6 386.8,239.8 C387.3,240.0 387.8,240.2 388.3,240.4 C388.8,240.6 389.3,240.8 389.8,241.1 C390.3,241.3 390.8,241.6 391.3,241.9 C391.8,242.1 392.3,242.4 392.8,242.7 C393.3,243.0 393.8,243.3 394.3,243.6 C394.8,243.9 395.3,244.2 395.8,244.5 C396.3,244.8 396.8,245.1 397.3,245.5 C397.8,245.8 398.3,246.1 398.8,246.5 C399.3,246.8 399.8,247.2 400.3,247.5 C400.8,247.9 401.3,248.2 401.8,248.6 C402.3,249.0 402.8,249.3 403.3,249.7 C403.8,250.1 404.3,250.5 404.8,250.8 C405.3,251.2 405.8,251.6 406.3,252.0 C406.8,252.4 407.3,252.8 407.8,253.2 C408.3,253.6 408.8,254.0 409.3,254.4 C409.8,254.8 410.3,255.3 410.8,255.7 C411.3,256.1 411.8,256.5 412.3,256.9 C412.8,257.4 413.3,257.8 413.8,258.2 C414.3,258.6 414.8,259.0 415.3,259.4 C415.8,259.8 416.3,260.2 416.8,260.6 C417.3,261.0 417.8,261.4 418.3,261.8 C418.8,262.2 419.3,262.6 419.8,263.0 C420.3,263.3 420.8,263.7 421.3,264.1 C421.8,264.4 422.3,264.8 422.8,265.1 C423.3,265.4 423.8,265.8 424.3,266.1 C424.8,266.4 425.3,266.7 425.8,267.0 C426.3,267.3 426.8,267.5 427.3,267.8 C427.8,268.1 428.3,268.3 428.8,268.5 C429.3,268.8 429.8,269.0 430.3,269.2 C430.8,269.4 431.3,269.6 431.8,269.8 C432.3,270.0 432.8,270.1 433.3,270.3 C433.8,270.5 434.3,270.6 434.8,270.8 C435.3,270.9 435.8,271.1 436.3,271.2 C436.8,271.3 437.3,271.4 437.8,271.5 C438.3,271.6 438.8,271.7 439.3,271.8 C439.8,271.9 440.3,271.9 440.8,272.0 C441.3,272.0 441.8,272.1 442.3,272.1 C442.8,272.1 443.3,272.1 443.8,272.2 C444.3,272.2 444.8,272.2 445.3,272.2 C445.8,272.2 446.3,272.1 446.8,272.1 C447.3,272.1 447.8,272.1 448.3,272.1 C448.8,272.0 449.3,272.0 449.8,272.0 C450.3,271.9 450.8,271.9 451.3,271.8 C451.8,271.8 452.3,271.7 452.8,271.6 C453.3,271.6 453.8,271.5 454.3,271.4 C454.8,271.4 455.3,271.3 455.8,271.2 C456.3,271.2 456.8,271.1 457.3,271.0 C457.8,270.9 458.3,270.9 458.8,270.8 C459.3,270.7 459.8,270.6 460.3,270.5 C460.8,270.5 461.3,270.4 461.8,270.3 C462.3,270.2 462.8,270.2 463.3,270.1 C463.8,270.0 464.3,270.0 464.8,269.9 C465.3,269.8 465.8,269.8 466.3,269.7 C466.8,269.6 467.3,269.6 467.8,269.5 C468.3,269.5 468.8,269.4 469.3,269.4 C469.8,269.3 470.3,269.3 470.8,269.3 C471.3,269.2 471.8,269.2 472.3,269.2 C472.8,269.1 473.3,269.1 473.8,269.1 C474.3,269.1 474.8,269.1 475.3,269.1 C475.8,269.1 476.3,269.1 476.8,269.1 C477.3,269.1 477.8,269.2 478.3,269.2 C478.8,269.2 479.3,269.3 479.8,269.3 C480.3,269.3 480.8,269.4 481.3,269.4 C481.8,269.5 482.3,269.5 482.8,269.6 C483.3,269.7 483.8,269.7 484.3,269.8 C484.8,269.8 485.3,269.9 485.8,270.0 C486.3,270.1 486.8,270.1 487.3,270.2 C487.8,270.3 488.3,270.4 488.8,270.5 C489.3,270.6 489.8,270.7 490.3,270.8 C490.8,270.9 491.3,271.0 491.8,271.1 C492.3,271.2 492.8,271.3 493.3,271.4 C493.8,271.5 494.3,271.7 494.8,271.8 C495.3,271.9 495.8,272.1 496.3,272.2 C496.8,272.4 497.3,272.5 497.8,272.7 C498.3,272.8 498.8,273.0 499.3,273.2 C499.8,273.4 500.3,273.6 500.8,273.7 C501.3,273.9 501.8,274.1 502.3,274.4 C502.8,274.6 503.3,274.8 503.8,275.0 C504.3,275.3 504.8,275.5 505.3,275.7 C505.8,276.0 506.3,276.2 506.8,276.5 C507.3,276.7 507.8,277.0 508.3,277.3 C508.8,277.5 509.3,277.8 509.8,278.1 C510.3,278.3 510.8,278.6 511.3,278.8 C511.8,279.1 512.3,279.4 512.8,279.6 C513.3,279.9 513.8,280.1 514.3,280.3 C514.8,280.6 515.3,280.8 515.8,281.1 C516.3,281.3 516.8,281.5 517.3,281.7 C517.8,282.0 518.3,282.2 518.8,282.4 C519.3,282.6 519.8,282.8 520.3,283.1 C520.8,283.3 521.3,283.5 521.8,283.7 C522.3,283.9 522.8,284.2 523.3,284.4 C523.8,284.6 524.3,284.8 524.8,285.0 C525.3,285.3 525.8,285.5 526.3,285.7 C526.8,285.9 527.3,286.1 527.8,286.3 C528.3,286.6 528.8,286.8 529.3,287.0 C529.8,287.2 530.3,287.4 530.8,287.6 C531.3,287.8 531.8,288.0 532.3,288.3 C532.8,288.5 533.3,288.7 533.8,288.9 C534.3,289.1 534.8,289.2 535.3,289.4 C535.8,289.6 536.3,289.8 536.8,290.0 C537.3,290.1 537.8,290.3 538.3,290.4 C538.8,290.6 539.3,290.7 539.8,290.9 C540.3,291.0 540.8,291.1 541.3,291.2 C541.8,291.3 542.3,291.5 542.8,291.6 C543.3,291.6 543.8,291.7 544.3,291.8 C544.8,291.9 545.3,292.0 545.8,292.0 C546.3,292.1 546.8,292.2 547.3,292.2 C547.8,292.3 548.3,292.3 548.8,292.4 C549.3,292.4 549.8,292.5 550.3,292.5 C550.8,292.6 551.3,292.6 551.8,292.7 C552.3,292.7 552.8,292.8 553.3,292.8 C553.8,292.9 554.3,292.9 554.8,293.0 C555.3,293.0 555.8,293.1 556.3,293.1 C556.8,293.2 557.3,293.2 557.8,293.3 C558.3,293.3 558.8,293.4 559.3,293.4 C559.8,293.5 560.3,293.5 560.8,293.6 C561.3,293.7 561.8,293.7 562.3,293.8 C562.8,293.8 563.3,293.9 563.8,293.9 C564.3,294.0 564.8,294.0 565.3,294.1 C565.8,294.1 566.3,294.2 566.8,294.2 C567.3,294.3 567.8,294.3 568.3,294.3 C568.8,294.4 569.3,294.4 569.8,294.5 C570.3,294.5 570.8,294.5 571.3,294.6 C571.8,294.6 572.3,294.6 572.8,294.7 C573.3,294.7 573.8,294.8 574.3,294.8 C574.8,294.8 575.3,294.9 575.8,294.9 C576.3,295.0 576.8,295.0 577.3,295.1 C577.8,295.1 578.3,295.2 578.8,295.2 C579.3,295.3 579.8,295.3 580.3,295.4 C580.8,295.5 581.3,295.5 581.8,295.6 C582.3,295.6 582.8,295.7 583.3,295.8 C583.8,295.8 584.3,295.9 584.8,296.0 C585.3,296.0 585.8,296.1 586.3,296.2 C586.8,296.2 587.3,296.3 587.8,296.4 C588.3,296.5 588.8,296.5 589.3,296.6 C589.8,296.7 590.3,296.8 590.8,296.8 C591.3,296.9 591.8,297.0 592.3,297.1 C592.8,297.2 593.3,297.3 593.8,297.3 C594.3,297.4 594.8,297.5 595.3,297.6 C595.8,297.7 596.3,297.8 596.8,297.9 C597.3,298.0 597.8,298.1 598.3,298.2 C598.8,298.3 599.3,298.4 599.8,298.5 C600.3,298.6 600.8,298.7 601.3,298.8 C601.8,298.9 602.3,299.0 602.8,299.2 C603.3,299.3 603.8,299.4 604.3,299.5 C604.8,299.6 605.3,299.7 605.8,299.9 C606.3,300.0 606.8,300.1 607.3,300.2 C607.8,300.3 608.3,300.4 608.8,300.5 C609.3,300.6 609.8,300.8 610.3,300.9 C610.8,301.0 611.3,301.1 611.8,301.2 C612.3,301.3 612.8,301.3 613.3,301.4 C613.8,301.5 614.3,301.6 614.8,301.7 C615.3,301.8 615.8,301.9 616.3,302.0 C616.8,302.1 617.3,302.1 617.8,302.2 C618.3,302.3 618.8,302.3 619.3,302.4 C619.8,302.5 620.3,302.5 620.8,302.6 C621.3,302.7 621.8,302.7 622.3,302.7 C622.8,302.8 623.3,302.8 623.8,302.9 C624.3,302.9 624.8,302.9 625.3,303.0 C625.8,303.0 626.3,303.0 626.8,303.0 C627.3,303.0 627.8,303.0 628.3,303.1 C628.8,303.1 629.5,303.1 629.8,303.1" fill="none" stroke="#ff1414" stroke-width="1" stroke-linejoin="round"/>
<path d="M19.3,205.0 C19.6,204.7 20.3,203.6 20.8,203.0 C21.3,202.3 21.8,201.7 22.3,201.1 C22.8,200.6 23.3,200.1 23.8,199.6 C24.3,199.2 24.8,198.8 25.3,198.5 C25.8,198.2 26.3,197.8 26.8,197.7 C27.3,197.5 27.8,197.5 28.3,197.6 C28.8,197.8 29.3,198.1 29.8,198.5 C30.3,199.0 30.8,199.5 31.3,200.1 C31.8,200.7 32.3,201.4 32.8,202.0 C33.3,202.6 33.8,203.2 34.3,203.6 C34.8,204.0 35.3,204.2 35.8,204.4 C36.3,204.6 36.8,204.6 37.3,204.8 C37.8,204.9 38.3,204.9 38.8,205.2 C39.3,205.4 39.8,205.6 40.3,206.0 C40.8,206.4 41.3,206.9 41.8,207.3 C42.3,207.8 42.8,208.3 43.3,208.8 C43.8,209.3 44.3,209.8 44.8,210.3 C45.3,210.8 45.8,211.2 46.3,211.6 C46.8,212.0 47.3,212.3 47.8,212.5 C48.3,212.7 48.8,212.7 49.3,212.7 C49.8,212.7 50.3,212.7 50.8,212.6 C51.3,212.5 51.8,212.3 52.3,212.1 C52.8,211.9 53.3,211.7 53.8,211.5 C54.3,211.3 54.8,211.0 55.3,210.7 C55.8,210.4 56.3,210.1 56.8,209.8 C57.3,209.5 57.8,209.2 58.3,208.8 C58.8,208.4 59.3,207.9 59.8,207.5 C60.3,207.0 60.8,206.5 61.3,206.0 C61.8,205.5 62.3,205.0 62.8,204.4 C63.3,203.8 63.8,203.2 64.3,202.6 C64.8,202.0 65.3,201.4 65.8,200.8 C66.3,200.2 66.8,199.5 67.3,198.9 C67.8,198.3 68.3,197.8 68.8,197.2 C69.3,196.6 69.8,196.0 70.3,195.5 C70.8,194.9 71.3,194.3 71.8,193.8 C72.3,193.2 72.8,192.6 73.3,192.1 C73.8,191.5 74.3,191.0 74.8,190.5 C75.3,189.9 75.8,189.4 76.3,188.9 C76.8,188.4 77.3,188.0 77.8,187.6 C78.3,187.1 78.8,186.7 79.3,186.3 C79.8,185.9 80.3,185.5 80.8,185.1 C81.3,184.7 81.8,184.3 82.3,184.0 C82.8,183.7 83.3,183.4 83.8,183.2 C84.3,183.0 84.8,182.9 85.3,182.7 C85.8,182.6 86.3,182.5 86.8,182.4 C87.3,182.2 87.8,182.1 88.3,182.0 C88.8,181.9 89.3,181.8 89.8,181.6 C90.3,181.5 90.8,181.4 91.3,181.3 C91.8,181.2 92.3,181.1 92.8,181.0 C93.3,180.9 93.8,180.7 94.3,180.6 C94.8,180.5 95.3,180.3 95.8,180.2 C96.3,180.0 96.8,179.8 97.3,179.7 C97.8,179.5 98.3,179.3 98.8,179.3 C99.3,179.2 99.8,179.2 100.3,179.4 C100.8,179.5 101.3,179.8 101.8,180.1 C102.3,180.5 102.8,180.9 103.3,181.3 C103.8,181.6 104.3,182.0 104.8,182.4 C105.3,182.8 105.8,183.2 106.3,183.6 C106.8,184.0 107.3,184.5 107.8,184.9 C108.3,185.3 108.8,185.8 109.3,186.2 C109.8,186.7 110.3,187.1 110.8,187.5 C111.3,188.0 111.8,188.4 112.3,188.9 C112.8,189.3 113.3,189.8 113.8,190.2 C114.3,190.7 114.8,191.2 115.3,191.6 C115.8,192.1 116.3,192.5 116.8,193.0 C117.3,193.4 117.8,193.9 118.3,194.3 C118.8,194.7 119.3,195.2 119.8,195.4 C120.3,195.6 120.8,195.7 121.3,195.7 C121.8,195.6 122.3,195.4 122.8,195.2 C123.3,195.0 123.8,194.7 124.3,194.5 C124.8,194.3 125.3,194.0 125.8,193.7 C126.3,193.5 126.8,193.2 127.3,192.9 C127.8,192.7 128.3,192.4 128.8,192.1 C129.3,191.8 129.8,191.5 130.3,191.2 C130.8,191.0 131.3,190.7 131.8,190.4 C132.3,190.1 132.8,189.8 133.3,189.5 C133.8,189.2 134.3,188.9 134.8,188.5 C135.3,188.2 135.8,187.8 136.3,187.4 C136.8,187.0 137.3,186.7 137.8,186.2 C138.3,185.6 138.8,185.1 139.3,184.4 C139.8,183.6 140.3,182.8 140.8,181.8 C141.3,180.8 141.8,179.7 142.3,178.3 C142.8,177.0 143.3,175.3 143.8,173.7 C144.3,172.1 144.8,170.4 145.3,168.8 C145.8,167.2 146.3,165.6 146.8,164.1 C147.3,162.6 147.8,161.1 148.3,159.6 C148.8,158.1 149.3,156.5 149.8,155.0 C150.3,153.5 150.8,151.9 151.3,150.4 C151.8,149.0 152.3,147.7 152.8,146.5 C153.3,145.3 153.8,144.3 154.3,143.3 C154.8,142.3 155.3,141.4 155.8,140.6 C156.3,139.7 156.8,139.0 157.3,138.2 C157.8,137.5 158.3,136.8 158.8,136.2 C159.3,135.6 159.8,135.0 160.3,134.5 C160.8,134.0 161.3,133.6 161.8,133.3 C162.3,133.0 162.8,132.8 163.3,132.9 C163.8,133.0 164.3,133.4 164.8,134.1 C165.3,134.7 165.8,135.7 166.3,137.0 C166.8,138.2 167.3,139.8 167.8,141.5 C168.3,143.1 168.8,145.0 169.3,146.9 C169.8,148.7 170.3,150.7 170.8,152.7 C171.3,154.6 171.8,156.6 172.3,158.6 C172.8,160.6 173.3,162.5 173.8,164.5 C174.3,166.4 174.8,168.3 175.3,170.1 C175.8,171.9 176.3,173.7 176.8,175.4 C177.3,177.0 177.8,178.6 178.3,180.0 C178.8,181.5 179.3,182.9 179.8,184.2 C180.3,185.5 180.8,186.8 181.3,188.0 C181.8,189.2 182.3,190.2 182.8,191.3 C183.3,192.3 183.8,193.2 184.3,194.1 C184.8,195.0 185.3,196.0 185.8,196.7 C186.3,197.5 186.8,198.3 187.3,198.8 C187.8,199.3 188.3,199.6 188.8,199.8 C189.3,200.1 189.8,200.2 190.3,200.3 C190.8,200.4 191.3,200.4 191.8,200.3 C192.3,200.2 192.8,199.9 193.3,199.7 C193.8,199.4 194.3,199.0 194.8,198.7 C195.3,198.4 195.8,198.0 196.3,197.7 C196.8,197.4 197.3,197.0 197.8,196.7 C198.3,196.4 198.8,196.1 199.3,195.9 C199.8,195.7 200.3,195.5 200.8,195.5 C201.3,195.4 201.8,195.5 202.3,195.6 C202.8,195.8 203.3,196.0 203.8,196.3 C204.3,196.5 204.8,196.9 205.3,197.3 C205.8,197.6 206.3,198.0 206.8,198.4 C207.3,198.8 207.8,199.2 208.3,199.6 C208.8,200.0 209.3,200.5 209.8,200.9 C210.3,201.3 210.8,201.8 211.3,202.2 C211.8,202.6 212.3,203.1 212.8,203.5 C213.3,204.0 213.8,204.4 214.3,204.8 C214.8,205.2 215.3,205.6 215.8,206.0 C216.3,206.4 216.8,206.8 217.3,207.1 C217.8,207.5 218.3,207.8 218.8,208.2 C219.3,208.5 219.8,208.9 220.3,209.1 C220.8,209.4 221.3,209.7 221.8,209.9 C222.3,210.1 222.8,210.3 223.3,210.5 C223.8,210.8 224.3,211.0 224.8,211.2 C225.3,211.4 225.8,211.6 226.3,212.0 C226.8,212.3 227.3,212.6 227.8,213.1 C228.3,213.7 228.8,214.3 229.3,215.1 C229.8,215.9 230.3,217.0 230.8,217.9 C231.3,218.9 231.8,220.0 232.3,220.9 C232.8,221.9 233.3,222.8 233.8,223.7 C234.3,224.6 234.8,225.4 235.3,226.2 C235.8,227.0 236.3,227.7 236.8,228.4 C237.3,229.0 237.8,229.5 238.3,230.0 C238.8,230.5 239.3,230.9 239.8,231.4 C240.3,231.9 240.8,232.3 241.3,232.8 C241.8,233.2 242.3,233.7 242.8,234.1 C243.3,234.6 243.8,235.0 244.3,235.5 C244.8,235.9 245.3,236.4 245.8,236.9 C246.3,237.3 246.8,237.8 247.3,238.2 C247.8,238.7 248.3,239.2 248.8,239.7 C249.3,240.2 249.8,240.7 250.3,241.3 C250.8,241.9 251.3,242.5 251.8,243.2 C252.3,243.8 252.8,244.5 253.3,245.2 C253.8,245.8 254.3,246.5 254.8,247.2 C255.3,248.0 255.8,248.7 256.3,249.6 C256.8,250.6 257.3,251.7 257.8,253.0 C258.3,254.3 258.8,255.8 259.3,257.5 C259.8,259.2 260.3,261.2 260.8,263.3 C261.3,265.3 261.8,267.8 262.3,270.1 C262.8,272.4 263.3,274.9 263.8,277.2 C264.3,279.5 264.8,281.8 265.3,284.0 C265.8,286.3 266.3,288.7 266.8,291.0 C267.3,293.2 267.8,295.7 268.3,297.7 C268.8,299.6 269.3,301.3 269.8,302.8 C270.3,304.4 270.8,305.7 271.3,306.9 C271.8,308.2 272.3,309.4 272.8,310.3 C273.3,311.2 273.8,311.8 274.3,312.3 C274.8,312.9 275.3,313.3 275.8,313.7 C276.3,314.0 276.8,314.4 277.3,314.5 C277.8,314.7 278.3,314.7 278.8,314.6 C279.3,314.4 279.8,314.2 280.3,313.7 C280.8,313.2 281.3,312.5 281.8,311.6 C282.3,310.8 282.8,309.7 283.3,308.4 C283.8,307.2 284.3,305.7 284.8,304.0 C285.3,302.4 285.8,300.5 286.3,298.5 C286.8,296.5 287.3,294.3 287.8,291.8 C288.3,289.4 288.8,286.6 289.3,284.0 C289.8,281.4 290.3,278.4 290.8,276.0 C291.3,273.6 291.8,271.4 292.3,269.6 C292.8,267.8 293.3,266.5 293.8,265.2 C294.3,263.9 294.8,262.8 295.3,261.6 C295.8,260.5 296.3,259.4 296.8,258.3 C297.3,257.2 297.8,256.2 298.3,255.1 C298.8,254.1 299.3,253.0 299.8,252.0 C300.3,251.0 300.8,250.0 301.3,249.0 C301.8,248.0 302.3,247.1 302.8,246.2 C303.3,245.4 303.8,244.7 304.3,244.1 C304.8,243.5 305.3,243.1 305.8,242.8 C306.3,242.4 306.8,242.1 307.3,242.0 C307.8,241.8 308.3,241.7 308.8,241.8 C309.3,241.9 309.8,242.2 310.3,242.5 C310.8,242.9 311.3,243.5 311.8,244.0 C312.3,244.6 312.8,245.5 313.3,246.0 C313.8,246.5 314.3,247.0 314.8,247.3 C315.3,247.5 315.8,247.5 316.3,247.5 C316.8,247.6 317.3,247.5 317.8,247.4 C318.3,247.4 318.8,247.4 319.3,247.3 C319.8,247.3 320.3,247.3 320.8,247.3 C321.3,247.3 321.8,247.4 322.3,247.4 C322.8,247.4 323.3,247.5 323.8,247.5 C324.3,247.6 324.8,247.6 325.3,247.6 C325.8,247.6 326.3,247.5 326.8,247.4 C327.3,247.3 327.8,247.2 328.3,247.0 C328.8,246.9 329.3,246.7 329.8,246.5 C330.3,246.4 330.8,246.2 331.3,246.0 C331.8,245.8 332.3,245.6 332.8,245.2 C333.3,244.9 333.8,244.5 334.3,244.1 C334.8,243.7 335.3,243.2 335.8,242.8 C336.3,242.3 336.8,241.8 337.3,241.3 C337.8,240.8 338.3,240.3 338.8,239.7 C339.3,239.1 339.8,238.4 340.3,237.7 C340.8,237.1 341.3,236.4 341.8,235.7 C342.3,235.0 342.8,234.4 343.3,233.8 C343.8,233.2 344.3,232.7 344.8,232.2 C345.3,231.7 345.8,231.3 346.3,230.8 C346.8,230.4 347.3,230.0 347.8,229.6 C348.3,229.3 348.8,228.9 349.3,228.6 C349.8,228.4 350.3,228.2 350.8,228.0 C351.3,227.8 351.8,227.7 352.3,227.6 C352.8,227.6 353.3,227.6 353.8,227.7 C354.3,227.9 354.8,228.2 355.3,228.5 C355.8,228.9 356.3,229.4 356.8,229.8 C357.3,230.2 357.8,230.6 358.3,231.0 C358.8,231.4 359.3,231.8 359.8,232.2 C360.3,232.6 360.8,232.9 361.3,233.3 C361.8,233.7 362.3,234.1 362.8,234.5 C363.3,235.0 363.8,235.4 364.3,235.9 C364.8,236.4 365.3,236.9 365.8,237.4 C366.3,237.9 366.8,238.5 367.3,239.0 C367.8,239.6 368.3,240.1 368.8,240.7 C369.3,241.2 369.8,241.8 370.3,242.3 C370.8,242.9 371.3,243.4 371.8,243.9 C372.3,244.3 372.8,244.8 373.3,245.2 C373.8,245.6 374.3,246.1 374.8,246.4 C375.3,246.7 375.8,247.0 376.3,247.2 C376.8,247.4 377.3,247.5 377.8,247.7 C378.3,248.0 378.8,248.2 379.3,248.6 C379.8,249.0 380.3,249.5 380.8,250.0 C381.3,250.5 381.8,251.1 382.3,251.7 C382.8,252.3 383.3,252.9 383.8,253.6 C384.3,254.2 384.8,254.9 385.3,255.6 C385.8,256.2 386.3,256.9 386.8,257.6 C387.3,258.4 387.8,259.1 388.3,259.9 C388.8,260.8 389.3,261.7 389.8,262.7 C390.3,263.7 390.8,264.9 391.3,266.0 C391.8,267.0 392.3,268.2 392.8,269.2 C393.3,270.2 393.8,271.2 394.3,272.1 C394.8,273.0 395.3,273.8 395.8,274.5 C396.3,275.2 396.8,275.7 397.3,276.3 C397.8,276.9 398.3,277.4 398.8,278.0 C399.3,278.5 399.8,279.1 400.3,279.6 C400.8,280.1 401.3,280.7 401.8,281.2 C402.3,281.7 402.8,282.1 403.3,282.6 C403.8,283.0 404.3,283.4 404.8,283.8 C405.3,284.2 405.8,284.7 406.3,285.0 C406.8,285.4 407.3,285.8 407.8,286.1 C408.3,286.3 408.8,286.4 409.3,286.4 C409.8,286.4 410.3,286.1 410.8,285.9 C411.3,285.6 411.8,285.2 412.3,284.8 C412.8,284.3 413.3,283.9 413.8,283.4 C414.3,282.9 414.8,282.4 415.3,281.9 C415.8,281.4 416.3,281.0 416.8,280.5 C417.3,280.1 417.8,279.7 418.3,279.3 C418.8,278.9 419.3,278.5 419.8,278.1 C420.3,277.7 420.8,277.3 421.3,276.7 C421.8,276.2 422.3,275.6 422.8,275.0 C423.3,274.4 423.8,273.7 424.3,273.0 C424.8,272.4 425.3,271.7 425.8,271.0 C426.3,270.4 426.8,269.7 427.3,269.1 C427.8,268.5 428.3,267.9 428.8,267.4 C429.3,266.8 429.8,266.3 430.3,265.8 C430.8,265.4 431.3,264.9 431.8,264.5 C432.3,264.1 432.8,263.8 433.3,263.6 C433.8,263.3 434.3,263.1 434.8,262.9 C435.3,262.8 435.8,262.6 436.3,262.5 C436.8,262.4 437.3,262.3 437.8,262.3 C438.3,262.3 438.8,262.4 439.3,262.5 C439.8,262.7 440.3,263.0 440.8,263.3 C441.3,263.6 441.8,264.0 442.3,264.3 C442.8,264.7 443.3,265.0 443.8,265.3 C444.3,265.6 444.8,265.9 445.3,266.2 C445.8,266.5 446.3,266.7 446.8,267.0 C447.3,267.2 447.8,267.5 448.3,267.7 C448.8,267.9 449.3,268.2 449.8,268.3 C450.3,268.5 450.8,268.7 451.3,268.9 C451.8,269.0 452.3,269.2 452.8,269.3 C453.3,269.5 453.8,269.6 454.3,269.8 C454.8,269.9 455.3,270.0 455.8,270.1 C456.3,270.3 456.8,270.4 457.3,270.5 C457.8,270.6 458.3,270.7 458.8,270.7 C459.3,270.8 459.8,270.9 460.3,270.8 C460.8,270.8 461.3,270.7 461.8,270.5 C462.3,270.4 462.8,270.2 463.3,270.1 C463.8,269.9 464.3,269.8 464.8,269.7 C465.3,269.6 465.8,269.7 466.3,269.7 C466.8,269.7 467.3,269.9 467.8,270.0 C468.3,270.1 468.8,270.3 469.3,270.4 C469.8,270.6 470.3,270.8 470.8,271.0 C471.3,271.2 471.8,271.4 472.3,271.6 C472.8,271.8 473.3,272.0 473.8,272.2 C474.3,272.4 474.8,272.6 475.3,272.8 C475.8,273.0 476.3,273.2 476.8,273.4 C477.3,273.6 477.8,273.8 478.3,274.0 C478.8,274.2 479.3,274.4 479.8,274.6 C480.3,274.9 480.8,275.1 481.3,275.4 C481.8,275.6 482.3,275.9 482.8,276.1 C483.3,276.4 483.8,276.6 484.3,276.9 C484.8,277.1 485.3,277.4 485.8,277.6 C486.3,277.9 486.8,278.1 487.3,278.4 C487.8,278.6 488.3,278.9 488.8,279.1 C489.3,279.4 489.8,279.7 490.3,280.0 C490.8,280.3 491.3,280.6 491.8,281.0 C492.3,281.3 492.8,281.7 493.3,282.1 C493.8,282.5 494.3,282.9 494.8,283.3 C495.3,283.8 495.8,284.3 496.3,284.8 C496.8,285.3 497.3,285.9 497.8,286.5 C498.3,287.0 498.8,287.6 499.3,288.1 C499.8,288.6 500.3,289.0 500.8,289.5 C501.3,289.9 501.8,290.4 502.3,290.8 C502.8,291.2 503.3,291.7 503.8,292.1 C504.3,292.5 504.8,292.9 505.3,293.3 C505.8,293.6 506.3,294.0 506.8,294.3 C507.3,294.6 507.8,294.8 508.3,295.1 C508.8,295.3 509.3,295.5 509.8,295.7 C510.3,295.9 510.8,296.2 511.3,296.3 C511.8,296.5 512.3,296.7 512.8,296.8 C513.3,296.9 513.8,296.9 514.3,296.8 C514.8,296.8 515.3,296.7 515.8,296.6 C516.3,296.4 516.8,296.3 517.3,296.1 C517.8,295.8 518.3,295.6 518.8,295.3 C519.3,295.0 519.8,294.6 520.3,294.2 C520.8,293.9 521.3,293.5 521.8,293.2 C522.3,292.9 522.8,292.7 523.3,292.4 C523.8,292.2 524.3,292.0 524.8,291.9 C525.3,291.7 525.8,291.6 526.3,291.6 C526.8,291.5 527.3,291.6 527.8,291.8 C528.3,291.9 528.8,292.2 529.3,292.4 C529.8,292.6 530.3,292.9 530.8,293.2 C531.3,293.4 531.8,293.7 532.3,293.9 C532.8,294.1 533.3,294.4 533.8,294.6 C534.3,294.9 534.8,295.1 535.3,295.2 C535.8,295.4 536.3,295.5 536.8,295.6 C537.3,295.7 537.8,295.7 538.3,295.7 C538.8,295.8 539.3,295.8 539.8,295.9 C540.3,295.9 540.8,296.0 541.3,296.1 C541.8,296.1 542.3,296.2 542.8,296.3 C543.3,296.4 543.8,296.5 544.3,296.6 C544.8,296.7 545.3,296.8 545.8,296.8 C546.3,296.8 546.8,296.8 547.3,296.7 C547.8,296.6 548.3,296.3 548.8,296.1 C549.3,295.9 549.8,295.7 550.3,295.4 C550.8,295.2 551.3,295.0 551.8,294.8 C552.3,294.6 552.8,294.3 553.3,294.2 C553.8,294.0 554.3,293.8 554.8,293.7 C555.3,293.6 555.8,293.6 556.3,293.6 C556.8,293.6 557.3,293.7 557.8,293.7 C558.3,293.8 558.8,293.9 559.3,294.0 C559.8,294.1 560.3,294.2 560.8,294.3 C561.3,294.4 561.8,294.6 562.3,294.7 C562.8,294.9 563.3,295.1 563.8,295.3 C564.3,295.5 564.8,295.7 565.3,295.9 C565.8,296.1 566.3,296.4 566.8,296.6 C567.3,296.8 567.8,297.0 568.3,297.2 C568.8,297.3 569.3,297.5 569.8,297.7 C570.3,297.9 570.8,298.0 571.3,298.2 C571.8,298.4 572.3,298.5 572.8,298.7 C573.3,298.8 573.8,299.0 574.3,299.2 C574.8,299.4 575.3,299.6 575.8,299.8 C576.3,300.0 576.8,300.2 577.3,300.4 C577.8,300.6 578.3,300.8 578.8,301.0 C579.3,301.2 579.8,301.4 580.3,301.6 C580.8,301.8 581.3,302.0 581.8,302.2 C582.3,302.4 582.8,302.6 583.3,302.7 C583.8,302.9 584.3,303.1 584.8,303.2 C585.3,303.4 585.8,303.6 586.3,303.7 C586.8,303.9 587.3,304.1 587.8,304.2 C588.3,304.4 588.8,304.6 589.3,304.7 C589.8,304.9 590.3,305.1 590.8,305.3 C591.3,305.4 591.8,305.6 592.3,305.8 C592.8,305.9 593.3,306.1 593.8,306.3 C594.3,306.5 594.8,306.6 595.3,306.8 C595.8,307.0 596.3,307.1 596.8,307.3 C597.3,307.5 597.8,307.6 598.3,307.8 C598.8,307.9 599.3,308.1 599.8,308.3 C600.3,308.4 600.8,308.6 601.3,308.7 C601.8,308.8 602.3,308.8 602.8,308.8 C603.3,308.9 603.8,308.9 604.3,308.9 C604.8,308.9 605.3,308.8 605.8,308.8 C606.3,308.7 606.8,308.5 607.3,308.4 C607.8,308.2 608.3,308.0 608.8,307.8 C609.3,307.7 609.8,307.5 610.3,307.2 C610.8,307.0 611.3,306.8 611.8,306.6 C612.3,306.3 612.8,306.1 613.3,305.8 C613.8,305.6 614.3,305.3 614.8,305.1 C615.3,304.8 615.8,304.6 616.3,304.3 C616.8,304.1 617.3,303.8 617.8,303.6 C618.3,303.4 618.8,303.1 619.3,302.9 C619.8,302.7 620.3,302.5 620.8,302.3 C621.3,302.1 621.8,301.9 622.3,301.7 C622.8,301.5 623.3,301.3 623.8,301.0 C624.3,300.7 624.8,300.5 625.3,300.1 C625.8,299.8 626.3,299.4 626.8,298.9 C627.3,298.4 627.8,297.8 628.3,297.1 C628.8,296.4 629.5,295.3 629.8,294.9" fill="none" stroke="#1f8a1f" stroke-width="1.1" stroke-linejoin="round"/>
<path d="M631,272.5 H633.5 M635,272.5 H679.7 M681.2,272.5 H723.5" stroke="#111" stroke-width="1.15" fill="none" stroke-dasharray="1.5 0.3"/>
</svg></body></html>
